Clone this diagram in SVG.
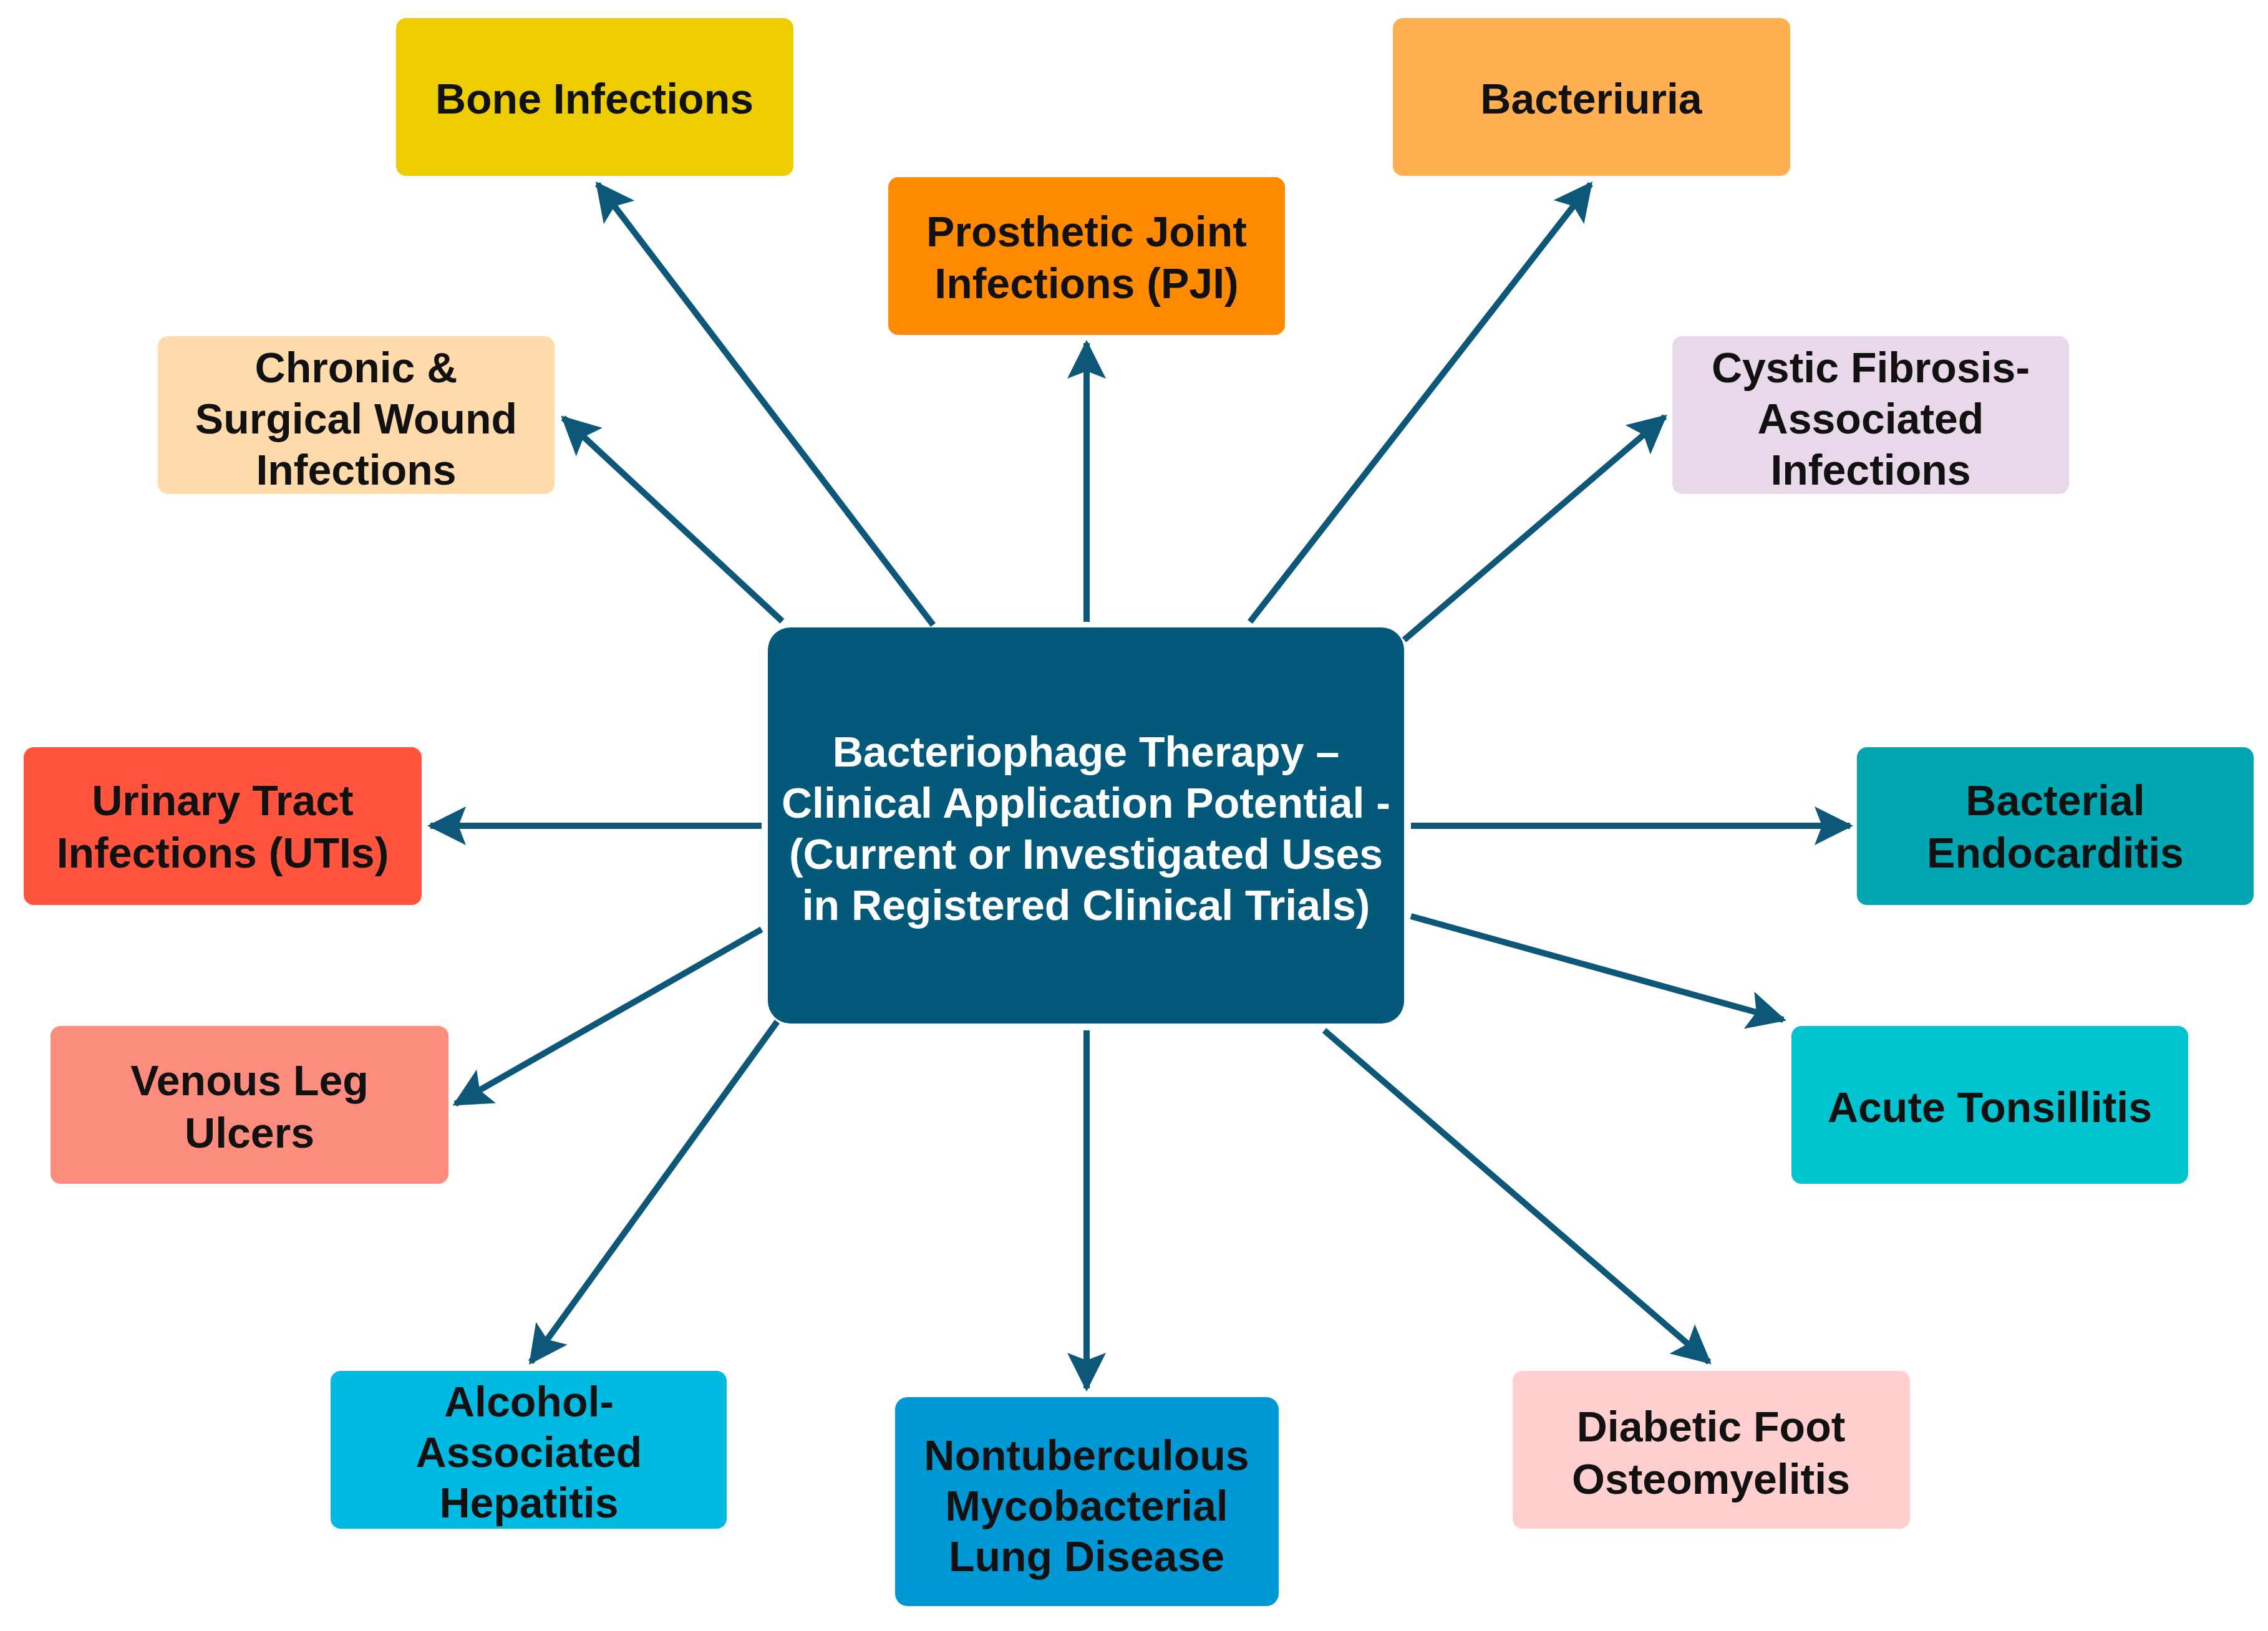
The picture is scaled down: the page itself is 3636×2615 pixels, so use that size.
<svg xmlns="http://www.w3.org/2000/svg" width="3636" height="2615" viewBox="0 0 3636 2615">
<defs>
<style>
.box{stroke:none}
.t{font-family:"Liberation Sans",Arial,sans-serif;font-weight:bold;font-size:68px;fill:#111111;text-anchor:middle}
.w{fill:#ffffff}
.c{stroke:#0d5878;stroke-width:10;fill:none;marker-end:url(#ah)}
</style>
<marker id="ah" markerUnits="userSpaceOnUse" viewBox="0 0 62 62" markerWidth="62" markerHeight="62" refX="57" refY="31" orient="auto">
<path d="M0,0 L62,31 L0,62 L12,31 Z" fill="#0d5878"/>
</marker>
</defs>
<rect width="3636" height="2615" fill="#ffffff"/>
<g id="connectors">
<line class="c" x1="1496" y1="1002" x2="958" y2="295"/>
<line class="c" x1="1254" y1="996" x2="903" y2="670"/>
<line class="c" x1="1742" y1="997" x2="1742" y2="550"/>
<line class="c" x1="2004" y1="997" x2="2550" y2="295"/>
<line class="c" x1="2251" y1="1026" x2="2669" y2="668"/>
<line class="c" x1="1221" y1="1324" x2="690" y2="1324"/>
<line class="c" x1="2262" y1="1324" x2="2966" y2="1324"/>
<line class="c" x1="2262" y1="1469" x2="2859" y2="1635"/>
<line class="c" x1="1221" y1="1490" x2="730" y2="1770"/>
<line class="c" x1="1246" y1="1638" x2="851" y2="2184"/>
<line class="c" x1="1742" y1="1652" x2="1742" y2="2226"/>
<line class="c" x1="2123" y1="1652" x2="2740" y2="2184"/>
</g>
<g id="center">
<rect class="box" x="1231" y="1006" width="1020" height="635" rx="36" fill="#03597a"/>
<text class="t w" x="1741" y="1229">Bacteriophage Therapy –</text>
<text class="t w" x="1741" y="1311">Clinical Application Potential -</text>
<text class="t w" x="1741" y="1393">(Current or Investigated Uses</text>
<text class="t w" x="1741" y="1475">in Registered Clinical Trials)</text>
</g>
<g id="bone">
<rect class="box" x="635" y="29" width="637" height="253" rx="16" fill="#edcd00"/>
<text class="t" x="953" y="182">Bone Infections</text>
</g>
<g id="pji">
<rect class="box" x="1424" y="284" width="636" height="253" rx="16" fill="#ff8a00"/>
<text class="t" x="1742" y="395">Prosthetic Joint</text>
<text class="t" x="1742" y="478">Infections (PJI)</text>
</g>
<g id="bacteriuria">
<rect class="box" x="2233" y="29" width="637" height="253" rx="16" fill="#ffae50"/>
<text class="t" x="2551" y="182">Bacteriuria</text>
</g>
<g id="chronic">
<rect class="box" x="253" y="539" width="636" height="253" rx="16" fill="#ffdaab"/>
<text class="t" x="571" y="613">Chronic &amp;</text>
<text class="t" x="571" y="695">Surgical Wound</text>
<text class="t" x="571" y="777">Infections</text>
</g>
<g id="cystic">
<rect class="box" x="2681" y="539" width="636" height="253" rx="16" fill="#e8d8ea"/>
<text class="t" x="2999" y="613">Cystic Fibrosis-</text>
<text class="t" x="2999" y="695">Associated</text>
<text class="t" x="2999" y="777">Infections</text>
</g>
<g id="uti">
<rect class="box" x="38" y="1198" width="638" height="253" rx="16" fill="#ff553e"/>
<text class="t" x="357" y="1307">Urinary Tract</text>
<text class="t" x="357" y="1391">Infections (UTIs)</text>
</g>
<g id="endocarditis">
<rect class="box" x="2977" y="1198" width="636" height="253" rx="16" fill="#00a7b2"/>
<text class="t" x="3295" y="1307">Bacterial</text>
<text class="t" x="3295" y="1391">Endocarditis</text>
</g>
<g id="venous">
<rect class="box" x="81" y="1645" width="638" height="253" rx="16" fill="#fb8c7e"/>
<text class="t" x="400" y="1756">Venous Leg</text>
<text class="t" x="400" y="1840">Ulcers</text>
</g>
<g id="tonsillitis">
<rect class="box" x="2872" y="1645" width="636" height="253" rx="16" fill="#00c4cf"/>
<text class="t" x="3190" y="1799">Acute Tonsillitis</text>
</g>
<g id="alcohol">
<rect class="box" x="530" y="2198" width="635" height="253" rx="16" fill="#00bae2"/>
<text class="t" x="848" y="2271">Alcohol-</text>
<text class="t" x="848" y="2352">Associated</text>
<text class="t" x="848" y="2433">Hepatitis</text>
</g>
<g id="ntm">
<rect class="box" x="1435" y="2240" width="615" height="335" rx="20" fill="#0098d4"/>
<text class="t" x="1742" y="2357">Nontuberculous</text>
<text class="t" x="1742" y="2438">Mycobacterial</text>
<text class="t" x="1742" y="2519">Lung Disease</text>
</g>
<g id="diabetic">
<rect class="box" x="2425" y="2198" width="637" height="253" rx="16" fill="#ffcfcf"/>
<text class="t" x="2743" y="2311">Diabetic Foot</text>
<text class="t" x="2743" y="2395">Osteomyelitis</text>
</g>
</svg>
